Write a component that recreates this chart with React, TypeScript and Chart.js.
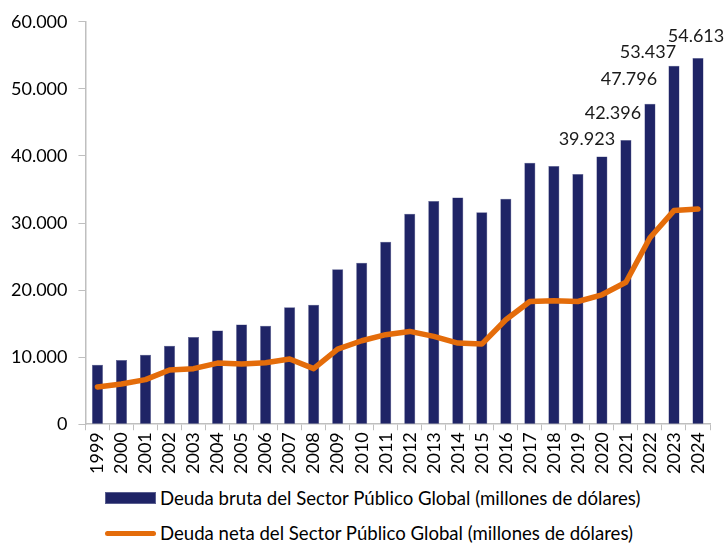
import React, { useEffect, useRef } from "react";
import { Chart, registerables } from "chart.js";

Chart.register(...registerables);

const years = ["1999","2000","2001","2002","2003","2004","2005","2006","2007","2008","2009","2010","2011","2012","2013","2014","2015","2016","2017","2018","2019","2020","2021","2022","2023","2024"];
const grossDebt = [8880,9570,10370,11710,12990,13990,14880,14690,17460,17810,23110,24060,27200,31400,33300,33800,31600,33600,38990,38500,37300,39923,42396,47796,53437,54613];
const netDebt = [5550,6000,6650,8080,8290,9120,8970,9180,9720,8290,11200,12450,13350,13840,13100,12100,11950,15580,18300,18400,18300,19300,21170,27800,31850,32100];
const labelledYears = ["2020","2021","2022","2023","2024"];
const yTicks = [0,10000,20000,30000,40000,50000,60000];
const grossLabel = "Deuda bruta del Sector Público Global (millones de dólares)";
const netLabel = "Deuda neta del Sector Público Global (millones de dólares)";

// style: pixel offsets of data labels relative to bar top (dx, dy)
const labelOffsets: Record<string, [number, number]> = {
  "2020": [-15, -17],
  "2021": [-13, -27],
  "2022": [-21, -24],
  "2023": [-26, -14],
  "2024": [-2, -22],
};

const NAVY = "#1F2466";
const ORANGE = "#E46C0A";
const FONT = "Lato, 'Open Sans', sans-serif";

function fmt(v: number) {
  return v.toLocaleString("de-DE");
}

const labelPlugin = {
  id: "barLabels",
  afterDatasetsDraw(chart: any) {
    const meta = chart.getDatasetMeta(0);
    const ctx = chart.ctx;
    ctx.save();
    ctx.fillStyle = "#1a1a1a";
    ctx.font = `18px ${FONT}`;
    ctx.textAlign = "center";
    ctx.textBaseline = "middle";
    labelledYears.forEach((y) => {
      const i = years.indexOf(y);
      const el = meta.data[i];
      const [dx, dy] = labelOffsets[y];
      ctx.fillText(fmt(grossDebt[i]), el.x + dx, el.y + dy);
    });
    ctx.restore();
  },
};

export default function App() {
  const ref = useRef<HTMLCanvasElement>(null);
  useEffect(() => {
    document.body.style.margin = "0";
    const chart = new Chart(ref.current!, {
      type: "bar",
      data: {
        labels: years,
        datasets: [
          {
            type: "bar",
            label: grossLabel,
            data: grossDebt,
            backgroundColor: NAVY,
            borderColor: "#5a5f8f",
            borderWidth: 0.5,
            barPercentage: 0.46,
            categoryPercentage: 1,
            order: 2,
          },
          {
            type: "line",
            label: netLabel,
            data: netDebt,
            borderColor: ORANGE,
            backgroundColor: ORANGE,
            borderWidth: 5.5,
            pointRadius: 0,
            tension: 0,
            borderCapStyle: "round",
            borderJoinStyle: "round",
            order: 1,
          } as any,
        ],
      },
      options: {
        responsive: false,
        animation: false,
        layout: { padding: { left: 0, right: 15, top: 5, bottom: 6 } },
        plugins: { legend: { display: false }, tooltip: { enabled: false } },
        scales: {
          x: {
            grid: { display: true, drawOnChartArea: false, drawTicks: true, tickLength: 6, color: "#BFBFBF", offset: true },
            border: { color: "#BFBFBF", width: 1.5 },
            ticks: { color: "#000", font: { family: FONT, size: 18 }, maxRotation: 90, minRotation: 90, autoSkip: false, padding: 2 },
          },
          y: {
            min: 0,
            max: 60000,
            afterBuildTicks: (axis: any) => { axis.ticks = yTicks.map((v) => ({ value: v })); },
            grid: { display: true, drawOnChartArea: false, drawTicks: true, tickLength: 7, color: "#BFBFBF" },
            border: { color: "#BFBFBF", width: 1.5 },
            ticks: { color: "#000", font: { family: FONT, size: 18 }, padding: 11, callback: (v: any) => fmt(Number(v)) },
          },
        },
      },
      plugins: [labelPlugin],
    });
    return () => chart.destroy();
  }, []);

  const legendRow = (swatch: React.ReactNode, text: string, top: number) => (
    <div style={{ position: "absolute", left: 105, top, display: "flex", alignItems: "center", height: 20 }}>
      {swatch}
      <span style={{ marginLeft: 4, fontFamily: FONT, fontSize: 18.6, color: "#000", whiteSpace: "nowrap" }}>{text}</span>
    </div>
  );

  return (
    <div style={{ position: "relative", width: 725, height: 546 }}>
      <canvas ref={ref} width={725} height={482} style={{ display: "block" }} />
      {legendRow(<div style={{ width: 51, height: 12, background: NAVY, boxSizing: "border-box", border: "0.5px solid #5a5f8f" }} />, grossLabel, 488)}
      {legendRow(<div style={{ width: 51, height: 5, background: ORANGE, borderRadius: 3 }} />, netLabel, 523)}
    </div>
  );
}
